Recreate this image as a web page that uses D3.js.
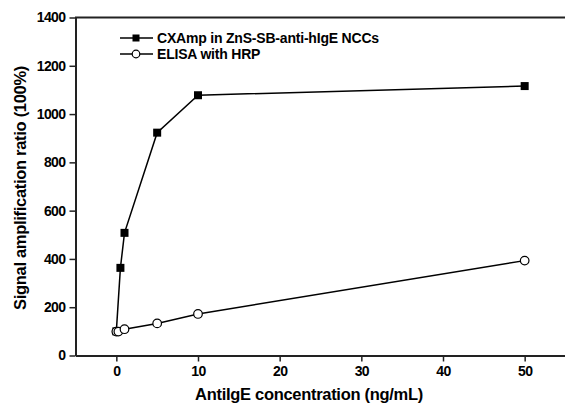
<!DOCTYPE html>
<html><head><meta charset="utf-8">
<script src="https://cdn.jsdelivr.net/npm/d3@7"></script>
<style>body{margin:0;background:#fff}svg{display:block;font-family:"Liberation Sans",Arial,sans-serif;font-weight:bold}</style>
</head><body><svg id="c" width="565" height="408"></svg>
<script>
const cxX = [0, 0.5, 1, 5, 10, 50];
const cxY = [100, 363, 508, 923, 1078, 1116];
const elX = [0, 0.25, 1, 5, 10, 50];
const elY = [99, 99, 109, 133, 172, 393];
const seriesNames = ["CXAmp in ZnS-SB-anti-hIgE NCCs", "ELISA with HRP"];
const xTicks = [0, 10, 20, 30, 40, 50];
const yTicks = [0, 200, 400, 600, 800, 1000, 1200, 1400];
const xTitle = "AntiIgE concentration (ng/mL)";
const yTitle = "Signal amplification ratio (100%)";

const svg = d3.select("#c");
const x = d3.scaleLinear().domain([-5, 55]).range([75.5, 565.5]);
const y = d3.scaleLinear().domain([0, 1400]).range([355.5, 17.5]);

// top frame line
svg.append("line").attr("x1", 75).attr("x2", 565).attr("y1", y(1400)).attr("y2", y(1400))
  .attr("stroke", "#222").attr("stroke-width", 2);

const xa = svg.append("g").attr("transform", `translate(0,${y(0)})`)
  .call(d3.axisBottom(x).tickValues(xTicks).tickSize(6).tickSizeOuter(0).tickFormat(d3.format("d")));
const ya = svg.append("g").attr("transform", `translate(${x(-5)},0)`)
  .call(d3.axisLeft(y).tickValues(yTicks).tickSize(6).tickSizeOuter(0).tickFormat(d3.format("d")));
[xa, ya].forEach(a => {
  a.select(".domain").attr("stroke", "#222").attr("stroke-width", 2);
  a.selectAll(".tick line").attr("stroke", "#222").attr("stroke-width", 1.5);
  a.selectAll(".tick text").attr("fill", "#000").style("font-size", "14px").style("font-weight", "bold")
    .style("font-family", '"Liberation Sans",Arial,sans-serif').style("letter-spacing", "-0.6px");
});
xa.selectAll(".tick text").attr("dy", "0.8em");
ya.selectAll(".tick text").attr("dx", "-1px");

svg.append("text").attr("x", 309).attr("y", 400).attr("text-anchor", "middle")
  .style("font-size", "16.5px").style("letter-spacing", "-0.3px").text(xTitle);
svg.append("text").attr("transform", "translate(26,188) rotate(-90)").attr("text-anchor", "middle")
  .style("font-size", "16.5px").style("letter-spacing", "-0.3px").text(yTitle);

const line = d3.line().x(d => x(d[0])).y(d => y(d[1]));
const cx = cxX.map((v, i) => [v, cxY[i]]);
const el = elX.map((v, i) => [v, elY[i]]);

svg.append("path").datum(cx).attr("d", line).attr("fill", "none").attr("stroke", "#000").attr("stroke-width", 1.5);
svg.append("path").datum(el).attr("d", line).attr("fill", "none").attr("stroke", "#000").attr("stroke-width", 1.5);

svg.selectAll(".sq").data(cx).join("rect").attr("x", d => x(d[0]) - 4).attr("y", d => y(d[1]) - 4)
  .attr("width", 8).attr("height", 8).attr("fill", "#000");
svg.selectAll(".ci").data(el).join("circle").attr("cx", d => x(d[0])).attr("cy", d => y(d[1]))
  .attr("r", 4.3).attr("fill", "#fff").attr("stroke", "#000").attr("stroke-width", 1.2);

// legend
const lg = svg.append("g");
[0, 1].forEach(i => {
  const ly = 38 + i * 16;
  lg.append("line").attr("x1", 120).attr("x2", 153).attr("y1", ly).attr("y2", ly).attr("stroke", "#000").attr("stroke-width", 1.5);
  if (i === 0) lg.append("rect").attr("x", 132.5).attr("y", ly - 3.5).attr("width", 7).attr("height", 7).attr("fill", "#000");
  else lg.append("circle").attr("cx", 136).attr("cy", ly).attr("r", 3.8).attr("fill", "#fff").attr("stroke", "#000").attr("stroke-width", 1.2);
  lg.append("text").attr("x", 157).attr("y", ly + 5).style("font-size", "14px").style("letter-spacing", "-0.2px").text(seriesNames[i]);
});
</script></body></html>
